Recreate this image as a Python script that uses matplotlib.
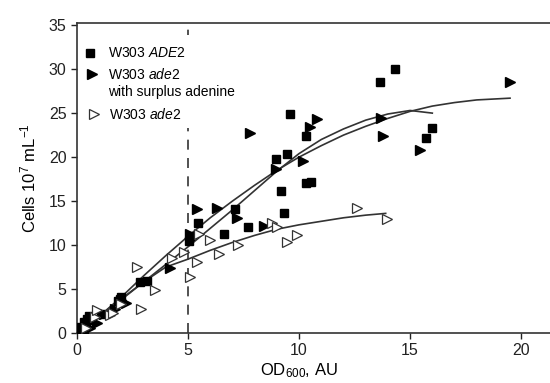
import numpy as np
import matplotlib.pyplot as plt

plt.switch_backend('agg')
plt.rcParams['font.family'] = 'Liberation Sans'
plt.rcParams['mathtext.fontset'] = 'custom'
plt.rcParams['mathtext.rm'] = 'Liberation Sans'
plt.rcParams['mathtext.it'] = 'Liberation Sans:italic'

# W303 ADE2 (filled squares)
ade2_wt_x = [0.15, 0.2, 0.3, 0.45, 0.55, 0.4, 0.65, 0.3, 1.1, 1.85, 2.0, 2.85, 3.15,
             5.05, 5.1, 5.45, 6.6, 7.1, 7.7, 8.95, 9.45, 9.6, 9.2, 9.3, 10.3, 10.55,
             10.3, 13.65, 14.3, 15.7, 16.0]
ade2_wt_y = [0.2, 0.7, 1.2, 1.6, 1.9, 0.9, 1.5, 0.4, 2.2, 3.6, 4.1, 5.8, 5.9,
             10.5, 11.0, 12.5, 11.3, 14.1, 12.1, 19.8, 20.3, 24.9, 16.1, 13.6, 17.1, 17.2,
             22.4, 28.5, 30.0, 22.2, 23.3]

# W303 ade2 with surplus adenine (filled triangles)
ade2_plus_x = [0.3, 0.6, 0.9, 1.2, 1.7, 2.2, 2.0, 4.2, 5.1, 5.4, 6.3, 7.2, 8.4,
               7.8, 8.96, 10.17, 10.5, 10.8, 13.7, 13.8, 15.45, 19.5]
ade2_plus_y = [0.3, 0.6, 1.1, 2.2, 2.7, 3.4, 3.7, 7.4, 11.3, 14.1, 14.2, 13.1, 12.2,
               22.7, 18.6, 19.5, 23.4, 24.3, 24.5, 22.4, 20.8, 28.5]

# W303 ade2 (open triangles)
ade2_x = [0.4, 0.8, 0.9, 1.5, 1.6, 2.0, 2.7, 2.9, 3.5, 4.3, 4.8, 5.1, 5.4, 5.5,
          6.0, 6.4, 7.25, 8.8, 9.0, 9.45, 9.9, 12.6, 13.95]
ade2_y = [0.6, 1.8, 2.6, 2.0, 2.3, 3.3, 7.5, 2.7, 4.9, 8.5, 9.2, 6.4, 8.1, 11.3,
          10.6, 9.0, 10.0, 12.5, 12.1, 10.3, 11.1, 14.2, 13.0]

# trend curves
fit_wt_x = [0.2, 1, 2, 3, 4, 5, 6, 7, 8, 9, 10, 11, 12, 13, 14, 15, 16]
fit_wt_y = [0.2, 1.9, 3.8, 5.8, 7.8, 9.8, 11.9, 14.0, 16.2, 18.4, 20.4, 22.0, 23.2, 24.2, 24.9, 25.3, 25.0]
fit_plus_x = [0.3, 1, 2, 3, 4, 5, 6, 7, 8, 9, 10, 11, 12, 13, 14, 15, 16, 17, 18, 19.5]
fit_plus_y = [0.3, 1.9, 4.1, 6.5, 8.8, 11.0, 13.1, 15.0, 16.8, 18.5, 20.0, 21.3, 22.5, 23.5,
              24.4, 25.2, 25.8, 26.2, 26.5, 26.7]
fit_ade2_x = [0.3, 1, 2, 3, 4, 5, 6, 7, 8, 9, 10, 11, 12, 13, 13.9]
fit_ade2_y = [0.5, 1.9, 3.9, 5.8, 7.5, 8.4, 9.4, 10.3, 11.1, 11.8, 12.3, 12.7, 13.1, 13.4, 13.6]

fig = plt.figure(figsize=(5.5, 3.83), dpi=100)
ax = fig.add_axes([0.14, 0.1305, 0.86, 0.8107])

line_col = '#333333'
ax.axvline(5, color='#333333', linestyle=(0, (6, 5)), linewidth=1.2, zorder=1)

ax.plot(fit_wt_x, fit_wt_y, color=line_col, lw=1.2, zorder=2)
ax.plot(fit_plus_x, fit_plus_y, color=line_col, lw=1.2, zorder=2)
ax.plot(fit_ade2_x, fit_ade2_y, color=line_col, lw=1.2, zorder=2)

ax.plot(ade2_wt_x, ade2_wt_y, 's', color='black', ms=6, zorder=3)
ax.plot(ade2_plus_x, ade2_plus_y, '>', color='black', ms=7, zorder=3)
ax.plot(ade2_x, ade2_y, '>', mfc='white', mec='#333333', mew=0.9, ms=7, zorder=3)

ax.set_xlim(0, 21.3)
ax.set_ylim(0, 35.3)
ax.set_xticks([0, 5, 10, 15, 20])
ax.set_yticks([0, 5, 10, 15, 20, 25, 30, 35])
ax.tick_params(direction='out', length=4, width=1.0, labelsize=11.5, colors='#222222')
for s in ['left', 'bottom', 'top']:
    ax.spines[s].set_linewidth(1.2)
    ax.spines[s].set_color('#333333')
ax.spines['right'].set_visible(False)

ax.set_ylabel('Cells 10$^7$ mL$^{-1}$', fontsize=12)
ax.set_xlabel('OD$_{600}$, AU', fontsize=12)
ax.xaxis.set_label_coords(0.47, -0.092)
ax.yaxis.set_label_coords(-0.082, 0.5)

# legend drawn by hand so the marker sits on the first line of the two-line label
ax.add_patch(plt.Rectangle((0.01, 0.66), 0.35, 0.3, transform=ax.transAxes,
                           facecolor='white', edgecolor='none', zorder=4))
ax.plot([0.028], [0.903], 's', color='black', ms=6, transform=ax.transAxes, zorder=5)
ax.text(0.065, 0.903, 'W303 $\\it{ADE2}$', transform=ax.transAxes, fontsize=10,
        va='center', zorder=5)
ax.plot([0.032], [0.833], '>', color='black', ms=7, transform=ax.transAxes, zorder=5)
ax.text(0.065, 0.833, 'W303 $\\it{ade2}$', transform=ax.transAxes, fontsize=10,
        va='center', zorder=5)
ax.text(0.065, 0.775, 'with surplus adenine', transform=ax.transAxes, fontsize=10,
        va='center', zorder=5)
ax.plot([0.036], [0.705], '>', mfc='white', mec='#333333', mew=0.9, ms=7,
        transform=ax.transAxes, zorder=5)
ax.text(0.068, 0.705, 'W303 $\\it{ade2}$', transform=ax.transAxes, fontsize=10,
        va='center', zorder=5)

plt.savefig('out.png')
plt.close()
